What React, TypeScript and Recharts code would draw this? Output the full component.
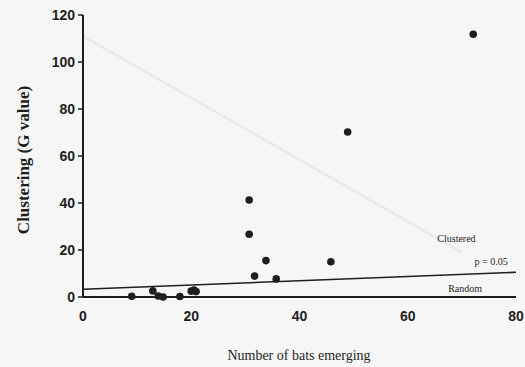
import { ScatterChart, Scatter, XAxis, YAxis, ReferenceLine, ReferenceDot, Label } from 'recharts';

// bats emerging vs clustering G value
const batsEmerging = [9, 12.9, 13.9, 14.8, 17.9, 20, 20.5, 20.9, 30.7, 30.7, 31.7, 33.8, 35.7, 45.8, 48.9, 72.1];
const gValues = [0.3, 2.6, 0.4, 0, 0.2, 2.5, 3, 2.3, 41.3, 26.7, 8.9, 15.5, 7.7, 15, 70.2, 111.8];

// critical G line (p = 0.05)
const pLine = [
  { x: 0, y: 3.3 },
  { x: 80, y: 10.5 },
];

// faint show-through line from the other side of the page
const ghostLine = [
  { x: 0, y: 111 },
  { x: 70, y: 19 },
];

const xTicks = [0, 20, 40, 60, 80];
const yTicks = [0, 20, 40, 60, 80, 100, 120];

const points = batsEmerging.map((x, i) => ({ x, y: gValues[i] }));

const INK = '#1e1e1e';
const tickStyle = { fontFamily: 'Liberation Sans, Arial, sans-serif', fontWeight: 'bold', fontSize: 14, fill: INK };
const noteStyle = { fontFamily: 'Liberation Serif, Times New Roman, serif', fontSize: 10, fill: INK };

function note(text: string) {
  return (props: any) => {
    const vb = props.viewBox || {};
    return (
      <text x={vb.x + (vb.width || 0) / 2} y={vb.y + (vb.height || 0) / 2} textAnchor="middle" dominantBaseline="central" style={noteStyle}>
        {text}
      </text>
    );
  };
}

export default function App() {
  return (
    <div style={{ position: 'absolute', left: 0, top: 0, width: 525, height: 367, background: '#f6f6f6' }}>
      <ScatterChart width={525} height={367} margin={{ top: 15, right: 9, bottom: 40, left: 23 }}>
        <ReferenceLine segment={ghostLine} stroke="#ebebeb" strokeWidth={3} />
        <XAxis
          type="number"
          dataKey="x"
          domain={[0, 80]}
          ticks={xTicks}
          height={30}
          tickLine={false}
          tickMargin={8}
          tick={tickStyle}
          axisLine={{ stroke: INK, strokeWidth: 2 }}
        >
          <Label
            content={() => (
              <text x={299} y={355} textAnchor="middle" dominantBaseline="central"
                style={{ fontFamily: 'Liberation Serif, Times New Roman, serif', fontSize: 14, fill: INK }}>
                Number of bats emerging
              </text>
            )}
          />
        </XAxis>
        <YAxis
          type="number"
          dataKey="y"
          domain={[0, 120]}
          ticks={yTicks}
          width={60}
          tickSize={5}
          tickMargin={3}
          tick={tickStyle}
          tickLine={{ stroke: INK, strokeWidth: 1.5 }}
          axisLine={{ stroke: INK, strokeWidth: 2 }}
        >
          <Label
            content={() => (
              <text x={23} y={160} textAnchor="middle" dominantBaseline="central" transform="rotate(-90 23 160)"
                style={{ fontFamily: 'Liberation Serif, Times New Roman, serif', fontWeight: 'bold', fontSize: 17, fill: INK }}>
                Clustering (G value)
              </text>
            )}
          />
        </YAxis>
        <ReferenceLine segment={pLine} stroke={INK} strokeWidth={1.6} />
        <ReferenceDot x={69} y={25} r={0} stroke="none" label={note('Clustered')} />
        <ReferenceDot x={75.4} y={14.9} r={0} stroke="none" label={note('p = 0.05')} />
        <ReferenceDot x={70.6} y={3.8} r={0} stroke="none" label={note('Random')} />
        <Scatter
          data={points}
          fill={INK}
          isAnimationActive={false}
          shape={(p: any) => <circle cx={p.cx} cy={p.cy} r={3.8} fill={INK} />}
        />
      </ScatterChart>
    </div>
  );
}
